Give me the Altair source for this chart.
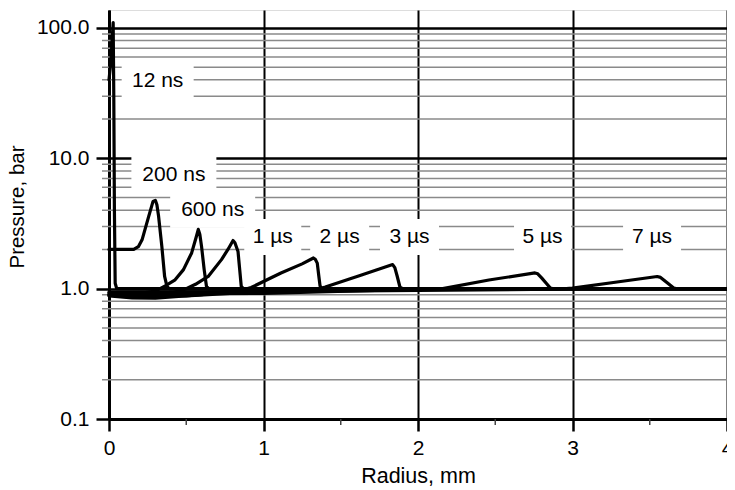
import altair as alt
import pandas as pd

# ---------------- data ----------------
SERIES = ["12 ns", "200 ns", "600 ns", "1 µs", "2 µs", "3 µs", "5 µs", "7 µs"]

R_12NS = [0.0, 0.012, 0.027, 0.031, 0.035, 0.040, 0.05, 4.0]
P_12NS = [40, 55, 110, 30, 4, 1.1, 1.0, 1.0]

R_200NS = [0.0, 0.16, 0.19, 0.214, 0.235, 0.257, 0.285, 0.30, 0.31, 0.321, 0.342, 0.36, 0.375, 0.39, 4.0]
P_200NS = [2.0, 2.0, 2.1, 2.37, 2.9, 3.59, 4.67, 4.76, 4.4, 3.59, 2.11, 1.24, 1.04, 1.0, 1.0]

R_600NS = [0.0, 0.15, 0.30, 0.33, 0.364, 0.428, 0.482, 0.535, 0.565, 0.578, 0.588, 0.599, 0.616, 0.631, 0.645, 4.0]
P_600NS = [0.93, 0.90, 0.96, 1.0, 1.05, 1.17, 1.40, 1.88, 2.5, 2.85, 2.6, 2.11, 1.40, 1.04, 1.0, 1.0]

R_1US = [0.0, 0.2, 0.4, 0.5, 0.56, 0.642, 0.728, 0.77, 0.803, 0.815, 0.835, 0.846, 0.856, 0.87, 4.0]
P_1US = [0.90, 0.87, 0.92, 1.0, 1.08, 1.24, 1.67, 2.0, 2.34, 2.25, 1.93, 1.4, 1.04, 1.0, 1.0]

R_2US = [0.0, 0.15, 0.3, 0.6, 0.88, 0.92, 1.113, 1.25, 1.323, 1.335, 1.348, 1.358, 1.366, 1.38, 4.0]
P_2US = [0.88, 0.85, 0.845, 0.90, 0.99, 1.02, 1.32, 1.55, 1.72, 1.68, 1.57, 1.25, 1.05, 1.0, 1.0]

R_3US = [0.0, 0.5, 1.0, 1.35, 1.40, 1.62, 1.836, 1.85, 1.865, 1.883, 1.9, 4.0]
P_3US = [0.89, 0.88, 0.95, 0.99, 1.03, 1.255, 1.53, 1.45, 1.25, 1.03, 1.0, 1.0]

R_5US = [0.0, 1.0, 1.6, 2.16, 2.459, 2.757, 2.775, 2.80, 2.83, 2.857, 2.87, 4.0]
P_5US = [0.91, 0.92, 0.96, 1.0, 1.166, 1.32, 1.30, 1.21, 1.10, 1.01, 1.0, 1.0]

R_7US = [0.0, 1.0, 2.0, 2.9, 3.0, 3.3, 3.548, 3.57, 3.617, 3.655, 3.67, 4.0]
P_7US = [0.94, 0.95, 0.97, 0.99, 1.01, 1.13, 1.24, 1.22, 1.10, 1.01, 1.0, 1.0]

R_ALL = [R_12NS, R_200NS, R_600NS, R_1US, R_2US, R_3US, R_5US, R_7US]
P_ALL = [P_12NS, P_200NS, P_600NS, P_1US, P_2US, P_3US, P_5US, P_7US]

# label anchors (data units)
LABEL_R = [0.315, 0.42, 0.671, 1.06, 1.493, 1.945, 2.806, 3.515]
LABEL_P = [39.5, 7.5, 4.04, 2.49, 2.49, 2.49, 2.49, 2.49]

X_TICKS = [0, 1, 2, 3, 4]
X_MINOR = [0.5, 1.5, 2.5, 3.5]
Y_TICKS = [0.1, 1, 10, 100]
Y_MINOR = [m * d for d in (0.1, 1, 10) for m in range(2, 10)]

# ---------------- style ----------------
FONT = "Liberation Sans"
W, H = 618, 409
BOX_W = [72, 85, 85, 57, 59, 59, 57, 58]
BOX_H = 36

def box_path(w, h):
    return f"M{-w/2},{-h/2}H{w/2}V{h/2}H{-w/2}Z"

rows = []
for s, rr, pp in zip(SERIES, R_ALL, P_ALL):
    for r, p in zip(rr, pp):
        rows.append({"series": s, "r": r, "p": p})
df = pd.DataFrame(rows)

lab = pd.DataFrame({"label": SERIES, "r": LABEL_R, "p": LABEL_P,
                    "box": [box_path(w, BOX_H) for w in BOX_W]})
minor_y = pd.DataFrame({"p": Y_MINOR})
minor_x = pd.DataFrame({"r": X_MINOR})

xs = alt.Scale(domain=[0, 4], nice=False, zero=False)
ys = alt.Scale(type="log", domain=[0.1, 137.4], nice=False)

x_axis = alt.Axis(values=X_TICKS, format="d", title="Radius, mm",
                  grid=True, gridColor="black", gridWidth=2,
                  tickSize=12, tickWidth=2.5, tickColor="black",
                  domainColor="black", domainWidth=3,
                  labelPadding=6, labelFlush=False, labelOverlap=False,
                  labelFontSize=21, labelFont=FONT, labelColor="black",
                  titleFontSize=21.5, titleFont=FONT, titleFontWeight="normal",
                  titleColor="black", titleY=63, titleBaseline="alphabetic")
y_axis = alt.Axis(values=Y_TICKS, format=".1f", title="Pressure, bar",
                  grid=True, gridColor="black", gridWidth=2.5,
                  tickSize=13, tickWidth=2.5, tickColor="black",
                  domainColor="black", domainWidth=3,
                  labelPadding=7, labelFlush=False, labelOverlap=False,
                  labelFontSize=21, labelFont=FONT, labelColor="black",
                  titleFontSize=20.5, titleFont=FONT, titleFontWeight="normal",
                  titleColor="black", titleAngle=270, titleX=-92, titleY=196.5,
                  titleAlign="center", titleBaseline="middle")

minor_rules = alt.Chart(minor_y).mark_rule(color="#8a8a8a", strokeWidth=1.5).encode(
    y=alt.Y("p:Q", scale=ys, axis=y_axis),
    x=alt.value(-7), x2=alt.value(W))

minor_ticks = alt.Chart(minor_x).mark_rule(color="#444444", strokeWidth=1.5).encode(
    x=alt.X("r:Q", scale=xs, axis=x_axis),
    y=alt.value(H), y2=alt.value(H + 6))

boxes = alt.Chart(lab).mark_point(filled=True, fill="white", color="white",
                                  opacity=1, size=4, strokeWidth=0).encode(
    x=alt.X("r:Q", scale=xs, axis=x_axis),
    y=alt.Y("p:Q", scale=ys, axis=y_axis),
    shape=alt.Shape("box:N", scale=None))

curves = alt.Chart(df).mark_line(color="black", strokeWidth=3.2,
                                 strokeJoin="round", strokeCap="round").encode(
    x=alt.X("r:Q", scale=xs, axis=x_axis),
    y=alt.Y("p:Q", scale=ys, axis=y_axis),
    detail="series:N")

texts = alt.Chart(lab).mark_text(fontSize=21, font=FONT, color="black").encode(
    x=alt.X("r:Q", scale=xs, axis=x_axis),
    y=alt.Y("p:Q", scale=ys, axis=y_axis),
    text="label:N")

chart = alt.layer(minor_rules, minor_ticks, boxes, curves, texts).properties(
    width=W, height=H,
    autosize=alt.AutoSizeParams(type="none"),
    padding={"left": 101, "right": 0, "top": 2, "bottom": 68},
).configure_view(stroke="black", strokeWidth=3).configure(background="white")

chart.save("out.html", embed_options={"renderer": "svg", "actions": False})
